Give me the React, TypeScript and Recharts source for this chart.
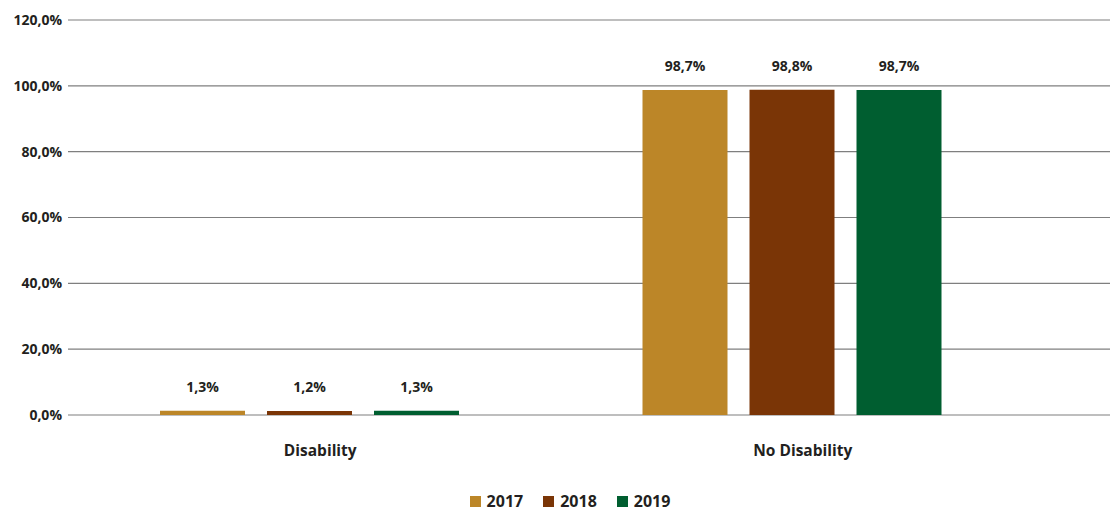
import { BarChart, Bar, CartesianGrid, LabelList, Legend, XAxis, YAxis } from 'recharts';

const categories = ['Disability', 'No Disability'];
const years = ['2017', '2018', '2019'];
const values2017 = [1.3, 98.7];
const values2018 = [1.2, 98.8];
const values2019 = [1.3, 98.7];
const yTicks = [0, 20, 40, 60, 80, 100, 120];

const colors: Record<string, string> = {
	'2017': '#BC8628',
	'2018': '#7A3506',
	'2019': '#005E30',
};

const data = categories.map((name, i) => ({
	name,
	'2017': values2017[i],
	'2018': values2018[i],
	'2019': values2019[i],
}));

const fontFamily = '"Open Sans", "DejaVu Sans", sans-serif';
const textColor = '#231F20';

const fmt = (v: number) => `${v.toFixed(1).replace('.', ',')}%`;

const ValueLabel = (props: any) => {
	const { x, y, width, value } = props;
	return (
		<text
			x={x + width / 2}
			y={y - 19}
			textAnchor='middle'
			fill={textColor}
			fontSize={14}
			fontWeight={700}
			fontFamily={fontFamily}>
			{fmt(value)}
		</text>
	);
};

const LegendContent = () => (
	<div
		style={{
			display: 'flex',
			justifyContent: 'center',
			alignItems: 'center',
			paddingTop: 18,
			paddingLeft: 30,
			fontFamily,
			fontSize: 16,
			fontWeight: 700,
			lineHeight: '16px',
			color: textColor,
		}}>
		{years.map((y) => (
			<div key={y} style={{ display: 'flex', alignItems: 'center', margin: '0 10px' }}>
				<span style={{ width: 11, height: 11, background: colors[y], marginRight: 6, display: 'inline-block' }} />
				<span>{y}</span>
			</div>
		))}
	</div>
);

export default function App() {
	return (
		<div style={{ position: 'absolute', left: 0, top: 0, width: 1110, height: 510, background: '#fff' }}>
			<BarChart
				width={1110}
				height={510}
				data={data}
				barSize={85}
				barGap={22}
				margin={{ top: 20, right: 0, left: 0, bottom: 0 }}>
				<CartesianGrid vertical={false} stroke='#7F7F7F' strokeWidth={1.2} />
				<XAxis
					dataKey='name'
					axisLine={false}
					tickLine={false}
					height={60}
					padding={{ left: 0, right: 77 }}
					tick={{ fill: textColor, fontSize: 15.5, fontWeight: 700, fontFamily, dy: 22, dx: 11 }}
				/>
				<YAxis
					domain={[0, 120]}
					ticks={yTicks}
					width={68}
					axisLine={false}
					tickLine={false}
					tickFormatter={fmt}
					tick={{ fill: textColor, fontSize: 14, fontWeight: 700, fontFamily, dx: 2 }}
				/>
				<Legend verticalAlign='bottom' height={35} content={<LegendContent />} />
				{years.map((y) => (
					<Bar key={y} dataKey={y} fill={colors[y]} isAnimationActive={false}>
						<LabelList dataKey={y} content={<ValueLabel />} />
					</Bar>
				))}
			</BarChart>
		</div>
	);
}
